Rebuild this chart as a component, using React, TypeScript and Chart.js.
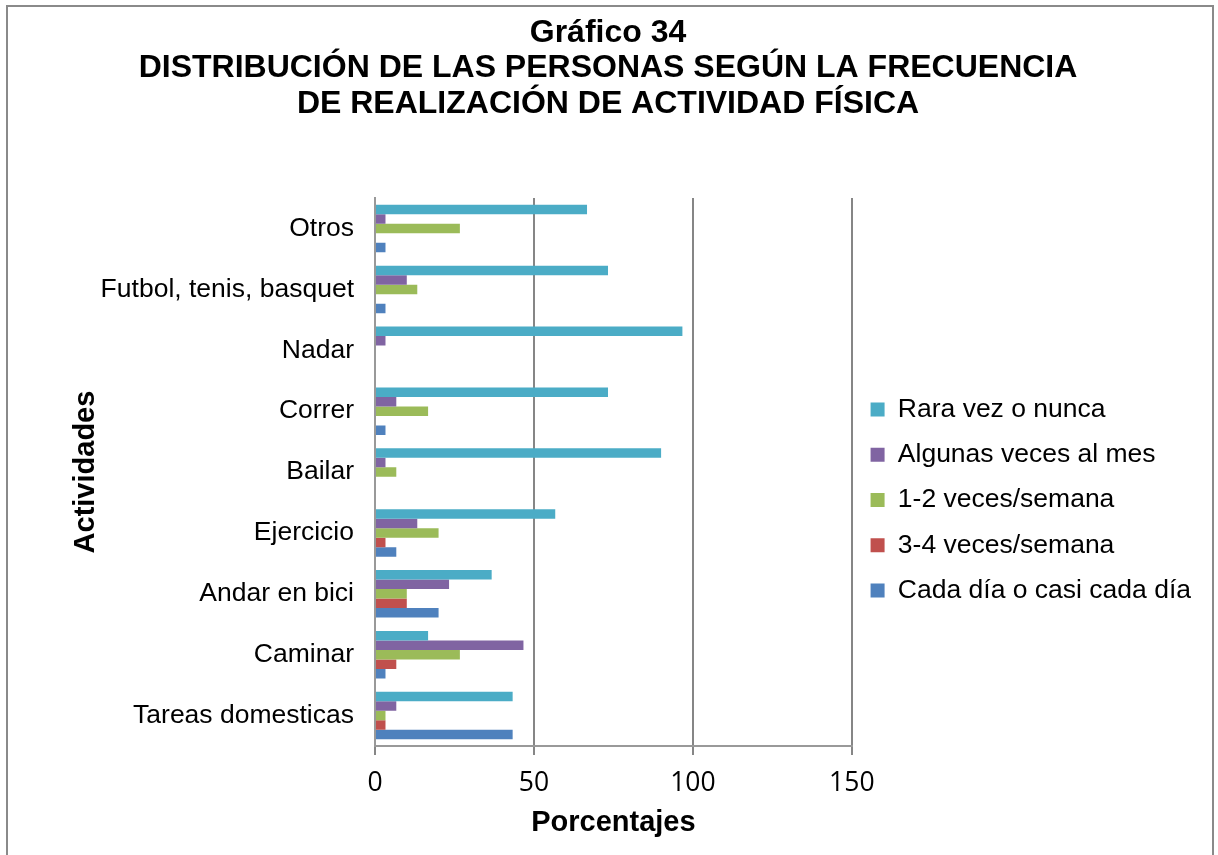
import { useEffect, useRef } from 'react';
import { Chart, registerables } from 'chart.js';

Chart.register(...registerables);

// Categories, listed top to bottom as in the reference
const categories = [
  'Otros',
  'Futbol, tenis, basquet',
  'Nadar',
  'Correr',
  'Bailar',
  'Ejercicio',
  'Andar en bici',
  'Caminar',
  'Tareas domesticas',
];

const seriesNames = [
  'Rara vez o nunca',
  'Algunas veces al mes',
  '1-2 veces/semana',
  '3-4 veces/semana',
  'Cada día o casi cada día',
];

const rara = [66.7, 73.3, 96.7, 73.3, 90, 56.7, 36.7, 16.7, 43.3];
const algunas = [3.3, 10, 3.3, 6.7, 3.3, 13.3, 23.3, 46.7, 6.7];
const unoDos = [26.7, 13.3, 0, 16.7, 6.7, 20, 10, 26.7, 3.3];
const tresCuatro = [0, 0, 0, 0, 0, 3.3, 10, 6.7, 3.3];
const cadaDia = [3.3, 3.3, 0, 3.3, 0, 6.7, 20, 3.3, 43.3];

const seriesColors = ['#4bacc6', '#8064a2', '#9bbb59', '#c0504d', '#4f81bd'];

const xMin = 0;
const xMax = 150;
const xStep = 50;

const titleLines = [
  'Gráfico 34',
  'DISTRIBUCIÓN DE LAS PERSONAS SEGÚN LA FRECUENCIA',
  'DE REALIZACIÓN DE ACTIVIDAD FÍSICA',
];
const xTitle = 'Porcentajes';
const yTitle = 'Actividades';

const FONT = '"Liberation Sans", Arial, sans-serif';
const PAD_LEFT = 15;
const PAD_RIGHT = 17;

const frame = {
  id: 'frame',
  beforeDraw(chart: any) {
    const { ctx, width, height } = chart;
    ctx.save();
    ctx.fillStyle = '#ffffff';
    ctx.fillRect(0, 0, width, height);
    ctx.strokeStyle = '#8a8a8a';
    ctx.lineWidth = 2;
    ctx.strokeRect(7, 6, 1206, 900);
    ctx.restore();
  },
};

export default function App() {
  const ref = useRef<HTMLCanvasElement>(null);

  useEffect(() => {
    if (!ref.current) return;
    Chart.defaults.font.family = FONT;
    Chart.defaults.color = '#000000';
    const all = [rara, algunas, unoDos, tresCuatro, cadaDia];
    const chart = new Chart(ref.current, {
      type: 'bar',
      data: {
        labels: categories,
        datasets: all.map((d, i) => ({
          label: seriesNames[i],
          data: d,
          backgroundColor: seriesColors[i],
          borderWidth: 0,
          categoryPercentage: 0.78,
          barPercentage: 1,
        })),
      },
      plugins: [frame],
      options: {
        indexAxis: 'y',
        responsive: false,
        animation: false,
        layout: { padding: { left: PAD_LEFT, right: PAD_RIGHT, top: 0, bottom: 0 } },
        plugins: {
          tooltip: { enabled: false },
          title: {
            display: true,
            text: titleLines,
            color: '#000',
            font: { family: FONT, size: 32, weight: 'bold', lineHeight: 1.11 },
            padding: { top: 15, bottom: 76.5 },
          },
          legend: {
            position: 'right',
            align: 'center',
            fullSize: false,
            maxWidth: 420,
            title: {
              display: true,
              text: '',
              font: { size: 10, lineHeight: 1.2 },
              padding: { top: 0, bottom: 44 },
            },
            labels: {
              color: '#000',
              font: { family: FONT, size: 26.5 },
              boxWidth: 14,
              boxHeight: 14,
              padding: 18.75,
            },
          },
        },
        scales: {
          x: {
            type: 'linear',
            min: xMin,
            max: xMax,
            afterFit(scale: any) {
              scale.height = 109;
            },
            ticks: {
              stepSize: xStep,
              color: '#000',
              font: { family: '"Open Sans", sans-serif', size: 26.5, lineHeight: 1.2 },
              padding: 12.5,
            },
            grid: { color: '#868686', lineWidth: 2, tickLength: 9, drawTicks: true },
            border: { display: true, color: '#999999', width: 2 },
            title: {
              display: true,
              text: xTitle,
              color: '#000',
              font: { family: FONT, size: 29, weight: 'bold', lineHeight: 1.2 },
              padding: { top: 8, bottom: 14.6 },
            },
          },
          y: {
            type: 'category',
            afterFit(scale: any) {
              scale.width = 375 - PAD_LEFT;
            },
            ticks: {
              autoSkip: false,
              color: '#000',
              font: { family: FONT, size: 26.5 },
              padding: 21,
            },
            grid: { display: false, drawTicks: false },
            border: { display: true, color: '#999999', width: 2 },
            title: {
              display: true,
              text: yTitle,
              color: '#000',
              font: { family: FONT, size: 29, weight: 'bold', lineHeight: 1.2 },
              padding: { top: 68.6 - PAD_LEFT, bottom: 0 },
            },
          },
        },
      },
    } as any);
    return () => chart.destroy();
  }, []);

  return (
    <div style={{ position: 'absolute', left: 0, top: 0, width: 1218, height: 855, background: '#fff' }}>
      <canvas ref={ref} width={1218} height={855} style={{ display: 'block' }} />
    </div>
  );
}
